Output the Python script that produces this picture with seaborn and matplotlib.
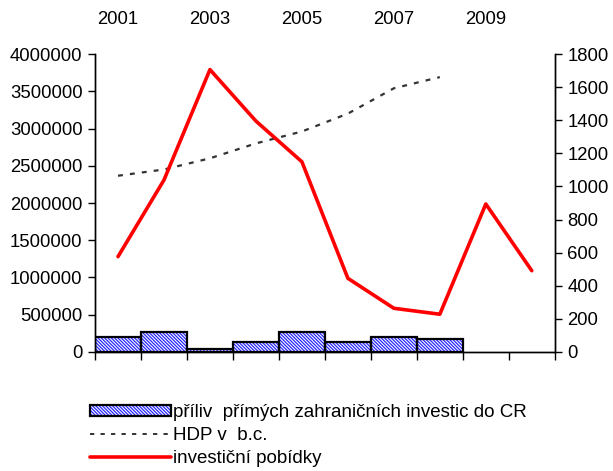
import numpy as np
import seaborn as sns
import matplotlib
matplotlib.use("Agg")
import matplotlib.pyplot as plt
from matplotlib.patches import Patch
from matplotlib.lines import Line2D
from matplotlib.legend_handler import HandlerTuple

years = ["2001", "2002", "2003", "2004", "2005", "2006", "2007", "2008", "2009", "2010"]
fdi_years = years[:8]
fdi = [205000, 265000, 45000, 130000, 265000, 130000, 205000, 180000]
hdp = [2366000, 2450000, 2600000, 2800000, 2960000, 3200000, 3540000, 3690000]
pobidky = [576, 1039, 1706, 1395, 1149, 445, 264, 228, 894, 491]
top_labels = ["2001", "", "2003", "", "2005", "", "2007", "", "2009", ""]
legend_labels = ["příliv  přímých zahraničních investic do CR", "HDP v  b.c.", "investiční pobídky"]

sns.set_style("white")
plt.rcParams["font.family"] = ["Liberation Sans", "DejaVu Sans"]
plt.rcParams["hatch.linewidth"] = 0.9
plt.rcParams["text.color"] = "black"
plt.rcParams["xtick.color"] = "black"
plt.rcParams["ytick.color"] = "black"

HATCH = "\\\\\\\\\\\\\\\\\\\\"
BLUE = "#2626ff"

fig = plt.figure(figsize=(6.13, 4.71), dpi=100)
ax = fig.add_axes([0.155, 0.2527, 0.75, 0.6326])

# hatched fill, then black outline on top
sns.barplot(x=fdi_years, y=fdi, order=years, width=1, color="white",
            edgecolor=BLUE, hatch=HATCH, linewidth=0, errorbar=None, ax=ax)
sns.barplot(x=fdi_years, y=fdi, order=years, width=1, fill=False,
            edgecolor="black", linewidth=1.6, errorbar=None, ax=ax)

sns.lineplot(x=np.arange(len(hdp)), y=hdp, color="#333333", linewidth=1.6,
             linestyle=(0, (2.2, 3.2)), ax=ax)

ax2 = ax.twinx()
sns.lineplot(x=np.arange(len(pobidky)), y=pobidky, color="red", linewidth=2.6, ax=ax2)

ax.set_xlim(-0.5, len(years) - 0.5)
ax.set_ylim(0, 4000000)
ax2.set_ylim(0, 1800)

yt = np.arange(0, 4000001, 500000)
ax.set_yticks(yt)
ax.set_yticklabels([str(v) for v in yt], fontsize=13.3)
yt2 = np.arange(0, 1801, 200)
ax2.set_yticks(yt2)
ax2.set_yticklabels([str(v) for v in yt2], fontsize=13.3)

ax.set_xticks(np.arange(len(years)))
ax.set_xticklabels(top_labels, fontsize=13.3)
ax.set_xticks(np.arange(-0.5, len(years)), minor=True)
ax.tick_params(axis="x", which="major", length=0, labelbottom=False, labeltop=True, pad=19)
ax.tick_params(axis="x", which="minor", bottom=True, length=6, width=1, color="black", direction="out")
ax.tick_params(axis="y", left=True, length=5, width=1, color="black", direction="out", pad=4)
ax2.tick_params(axis="y", right=True, length=5, width=1, color="black", direction="out", pad=4)
ax.set_xlabel("")
ax.set_ylabel("")
ax2.set_ylabel("")

for a in (ax, ax2):
    a.spines["top"].set_visible(False)
    for s in ("left", "right", "bottom"):
        a.spines[s].set_color("black")
        a.spines[s].set_linewidth(1)

bar_handle = (Patch(facecolor="white", edgecolor=BLUE, hatch=HATCH, linewidth=0),
              Patch(fill=False, edgecolor="black", linewidth=1.6))
handles = [
    bar_handle,
    Line2D([], [], color="#333333", linewidth=1.4, linestyle=(0, (2.2, 3.2))),
    Line2D([], [], color="red", linewidth=2.6),
]
fig.legend(handles, legend_labels, loc="upper left", bbox_to_anchor=(0.135, 0.158),
           frameon=False, fontsize=13.5, handlelength=4.3, handleheight=0.55,
           handletextpad=0.1, labelspacing=0.33, borderaxespad=0,
           handler_map={tuple: HandlerTuple(ndivide=1, pad=0)})
fig.savefig("out.png", dpi=100)
